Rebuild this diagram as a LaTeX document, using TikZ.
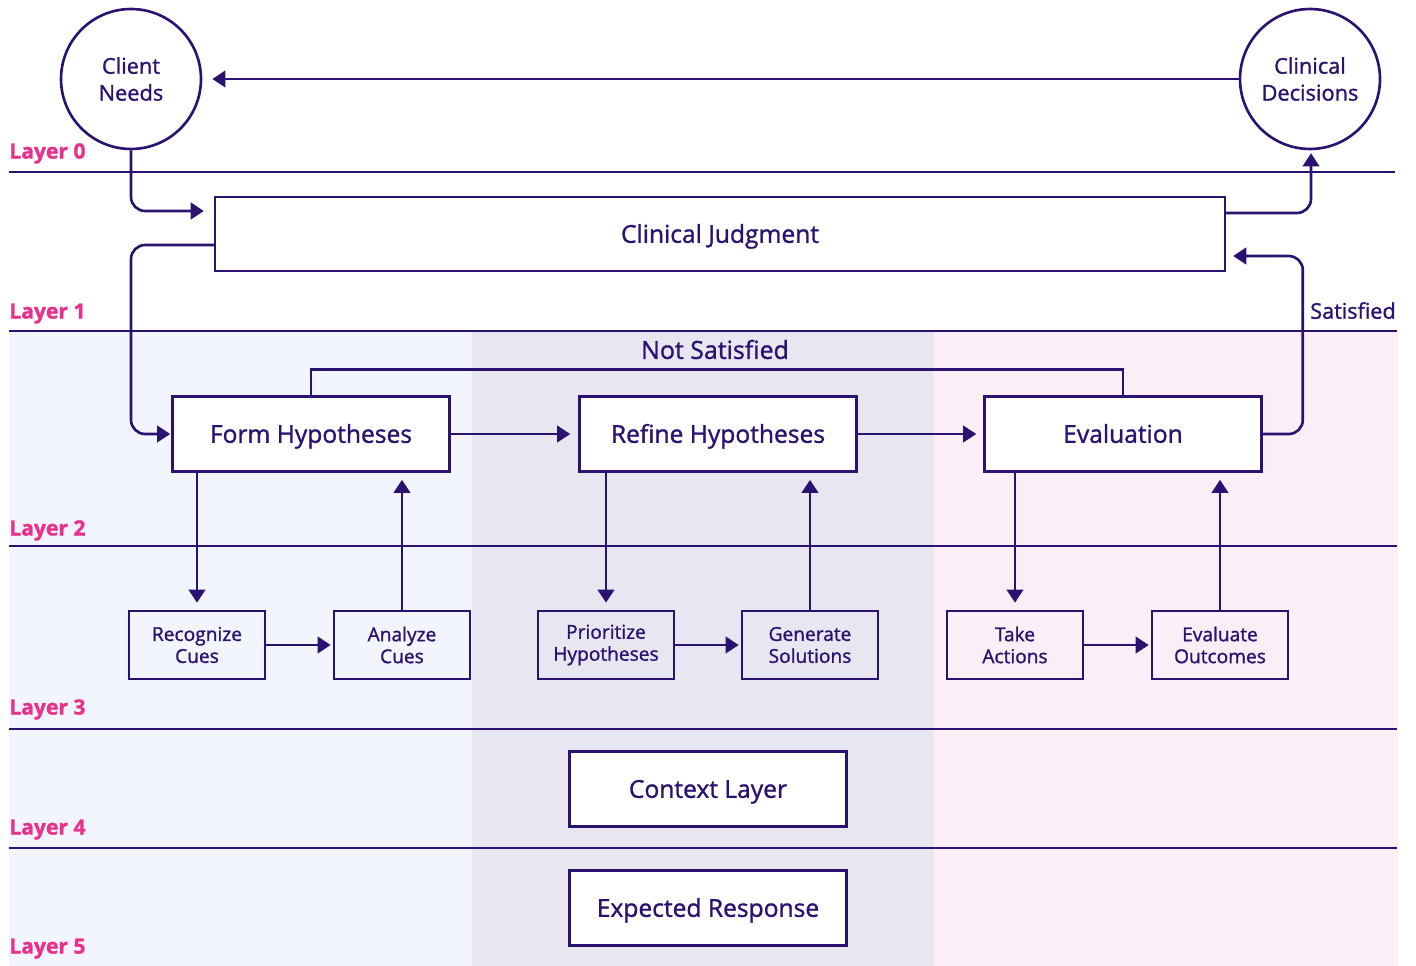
\documentclass[tikz,border=0pt]{standalone}
\usepackage{fontspec}
\setmainfont{Open Sans}[FakeBold=1.2]
\usetikzlibrary{arrows.meta,calc}
\definecolor{ink}{RGB}{43,18,112}
\definecolor{layerpink}{RGB}{232,48,140}
\definecolor{bandblue}{RGB}{242,245,253}
\definecolor{bandgrey}{RGB}{232,230,240}
\definecolor{bandpink}{RGB}{252,238,247}

\begin{document}
\begin{tikzpicture}[x=0.02cm,y=-0.02cm,
        box/.style={draw=ink,line width=1.5pt,fill=white,text=ink,minimum width=5.54cm,minimum height=1.5cm,text height=10pt,text depth=0pt,font=\fontsize{14}{15}\selectfont},
        small/.style={draw=ink,line width=1.5pt,text=ink,minimum width=2.72cm,minimum height=1.36cm,align=center,font=\fontsize{10.9}{12.5}\selectfont},
        circ/.style={circle,draw=ink,line width=1.5pt,fill=white,text=ink,minimum size=2.8cm,inner sep=0pt,align=center,font=\fontsize{12.4}{15.3}\selectfont},
        arr/.style={draw=ink,line width=1.5pt,-{Triangle[length=7.5pt,width=9.5pt]},rounded corners=8pt},
        sep/.style={draw=ink,line width=1.5pt},
        layer/.style={anchor=west,inner sep=0pt,text height=8.6pt,text depth=0pt,text=layerpink,font=\bfseries\fontsize{12}{14}\selectfont},
        tag/.style={inner sep=0pt,text height=8.8pt,text depth=0pt,text=ink,font=\fontsize{12.3}{14}\selectfont}]
    \useasboundingbox (0,0) rectangle (1416,966);
    % bands
    \fill[bandblue] (9,331) rectangle (472,966);
    \fill[bandgrey] (472,331) rectangle (934,966);
    \fill[bandpink] (934,331) rectangle (1398,966);
    % layer lines
    \draw[sep] (9,172) -- (1395,172);
    \draw[sep] (9,331) -- (1397,331);
    \draw[sep] (9,546) -- (1397,546);
    \draw[sep] (9,729) -- (1397,729);
    \draw[sep] (9,848) -- (1397,848);
    \node[layer] (L0) at (9,151) {Layer 0};
    \node[layer] (L1) at (9,311) {Layer 1};
    \node[layer] (L2) at (9,528) {Layer 2};
    \node[layer] (L3) at (9,707) {Layer 3};
    \node[layer] (L4) at (9,827) {Layer 4};
    \node[layer] (L5) at (9,946) {Layer 5};
    % nodes
    \node[circ] (CN) at (131,79) {Client\\Needs};
    \node[circ] (CD) at (1310,79) {Clinical\\Decisions};
    \node[box,minimum width=20.2cm,minimum height=1.48cm] (CJ) at (720,234) {Clinical Judgment};
    \node[box] (FH) at (311,434) {Form Hypotheses};
    \node[box] (RH) at (718,434) {Refine Hypotheses};
    \node[box] (EV) at (1123,434) {Evaluation};
    \node[small] (RC) at (197,645) {Recognize\\Cues};
    \node[small] (AC) at (402,645) {Analyze\\Cues};
    \node[small] (PH) at (606,645) {Prioritize\\Hypotheses};
    \node[small] (GS) at (810,645) {Generate\\Solutions};
    \node[small] (TA) at (1015,645) {Take\\Actions};
    \node[small] (EO) at (1220,645) {Evaluate\\Outcomes};
    \node[box] (CX) at (708,789) {Context Layer};
    \node[box] (ER) at (708,908) {Expected Response};
    \node[tag,text height=10.1pt,font=\fontsize{14.2}{15}\selectfont] (NS) at (715,350) {Not Satisfied};
    \node[tag] (SA) at (1353,311) {Satisfied};
    % edges
    \draw[arr] (CD.west) -- ($(CN.east)+(10,0)$);
    \draw[arr] (CN.south) |- ($(CJ.west)+(-10,-23)$);
    \draw[arr] ($(CJ.west)+(0,11)$) -| (CN.south |- FH.west) -- ($(FH.west)+(-1,0)$);
    \draw[arr] ($(CJ.east)+(0,-21)$) -| ($(CD.south)+(1,3)$);
    \draw[arr] (EV.east) -- ++(40,0) |- ($(CJ.east)+(7,22)$);
    \draw[sep] (FH.north) -- ++(0,-26) -| (EV.north);
    \draw[arr] (FH.east) -- ($(RH.west)+(-8,0)$);
    \draw[arr] (RH.east) -- ($(EV.west)+(-7,0)$);
    \foreach \a/\b in {RC/AC,PH/GS,TA/EO}
        \draw[arr] (\a.east) -- ($(\b.west)+(-2,0)$);
    \foreach \a/\b in {FH/RC,RH/PH,EV/TA}
        \draw[arr] (\b.north |- \a.south) -- ($(\b.north)+(0,-7)$);
    \foreach \a/\b in {FH/AC,RH/GS,EV/EO}
        \draw[arr] (\b.north) -- ($(\b.north |- \a.south)+(0,7)$);
\end{tikzpicture}
\end{document}
